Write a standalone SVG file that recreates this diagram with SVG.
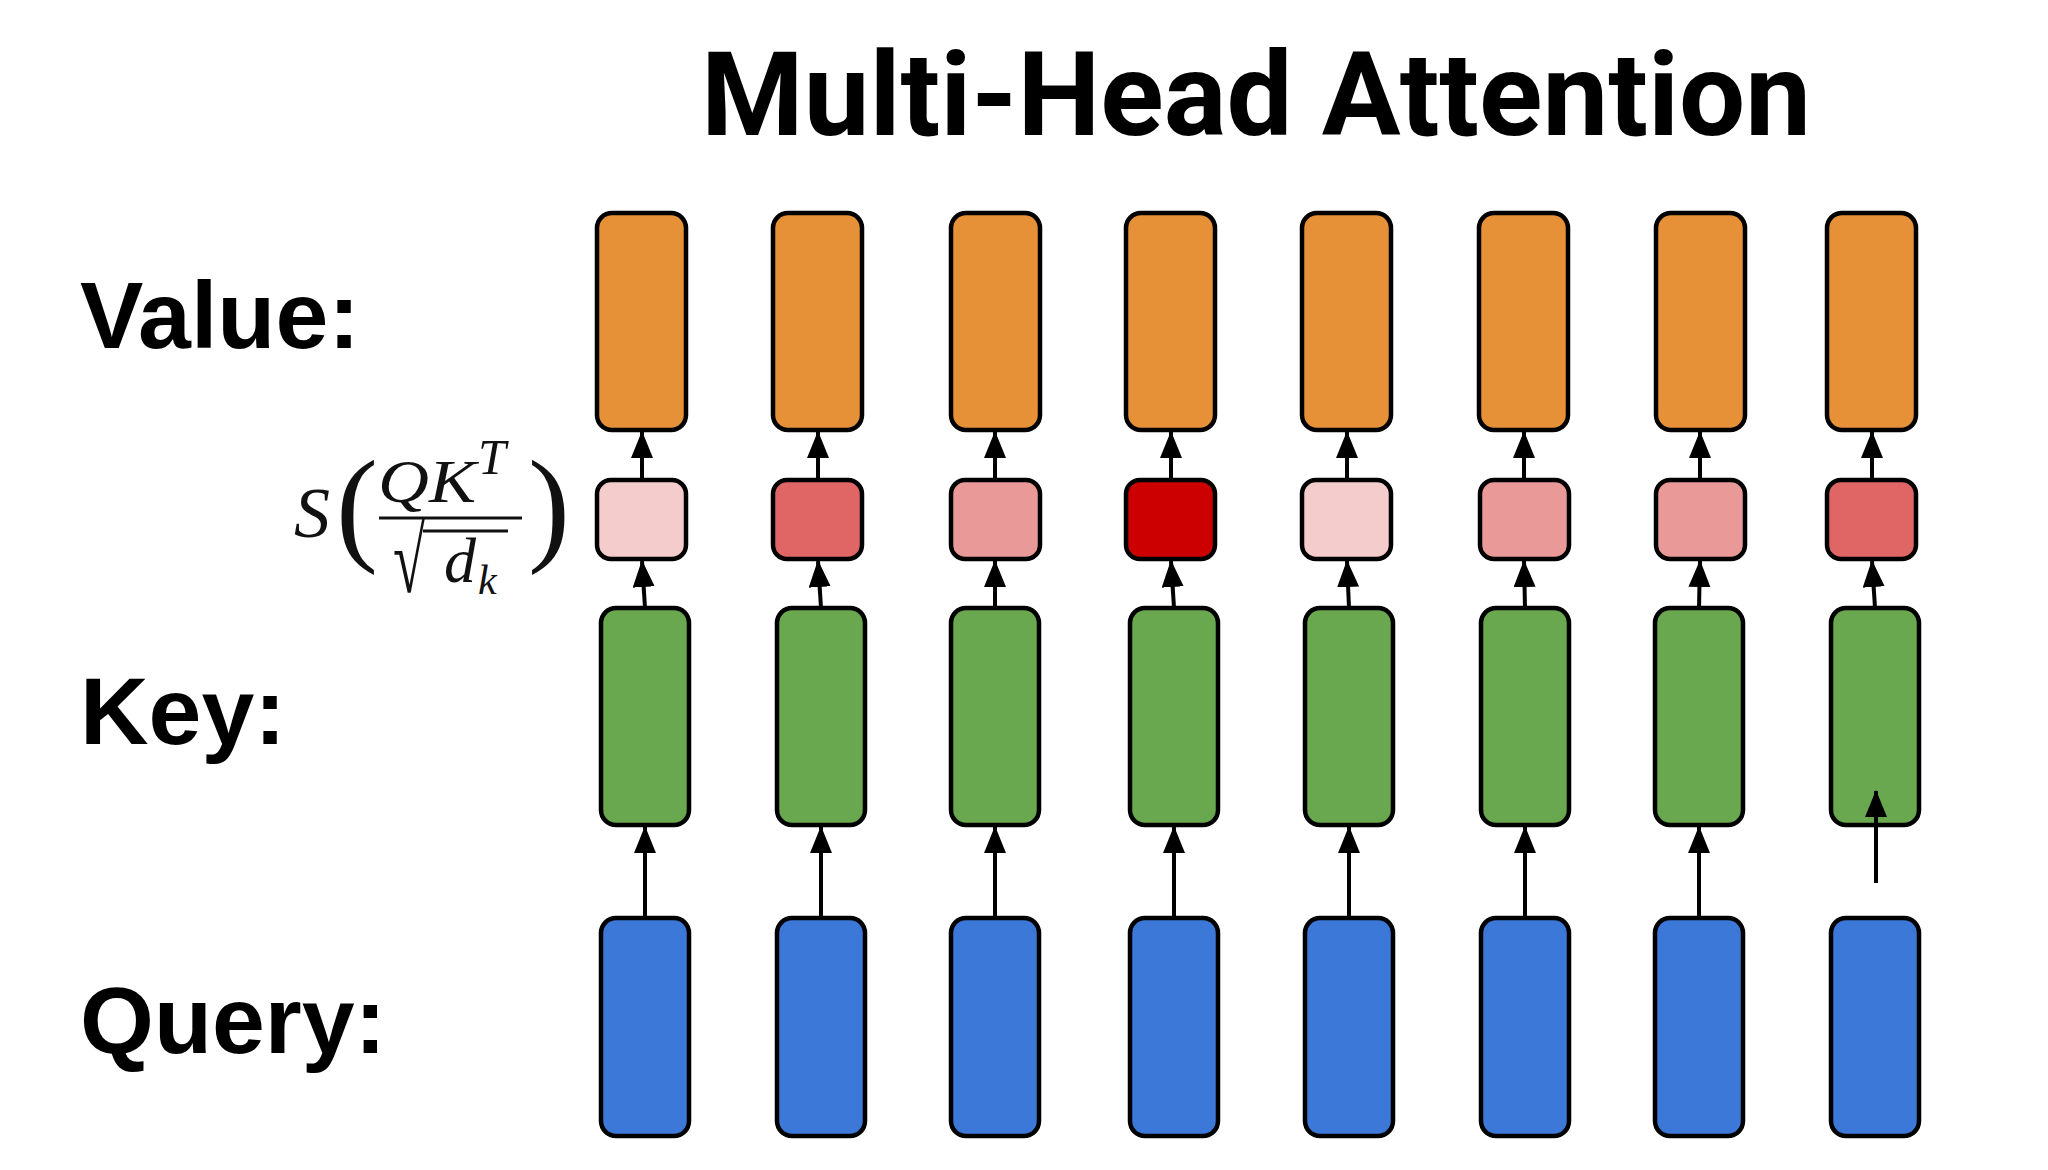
<svg xmlns="http://www.w3.org/2000/svg" width="2048" height="1170" viewBox="0 0 2048 1170">
<style>
.box{stroke:#000;stroke-width:4.5}
.v{fill:#E69138}.k{fill:#6AA84F}.q{fill:#3C78D8}
.s1{fill:#F4CCCC}.s2{fill:#EA9999}.s3{fill:#E06666}.s4{fill:#CC0000}
.lbl{font-family:"Liberation Sans",Arial,sans-serif;font-weight:bold;fill:#000}
.m{font-family:"Liberation Serif","Times New Roman",serif;font-style:italic;fill:#111}
.mr{font-family:"Liberation Serif","Times New Roman",serif;fill:#111}
.c{stroke:#000;stroke-width:4;fill:none;marker-end:url(#ah)}
</style>
<defs>
<marker id="ah" markerUnits="userSpaceOnUse" markerWidth="28" markerHeight="24" refX="26" refY="11" orient="auto">
<path d="M0,0 L27,11 L0,22 Z" fill="#000"/>
</marker>
</defs>
<rect width="2048" height="1170" fill="#fff"/>
<text x="701" y="135" font-family="Roboto,'Liberation Sans',sans-serif" font-weight="bold" font-size="117" textLength="1110" lengthAdjust="spacingAndGlyphs">Multi-Head Attention</text>
<text class="lbl" x="80" y="348" font-size="95">Value:</text>
<text class="lbl" x="80" y="744" font-size="95">Key:</text>
<text class="lbl" x="80" y="1053" font-size="95">Query:</text>
<g id="formula">
<text class="m" x="294" y="537" font-size="72">S</text>
<text class="mr" x="336" y="548" font-size="126">(</text>
<text class="m" x="378" y="502" font-size="62" textLength="98" lengthAdjust="spacingAndGlyphs">QK</text>
<text class="m" x="478" y="474" font-size="50">T</text>
<line x1="379" y1="518" x2="522" y2="518" stroke="#111" stroke-width="3"/>
<text class="mr" x="393" y="592" font-size="94" textLength="32" lengthAdjust="spacingAndGlyphs">√</text>
<line x1="423" y1="531" x2="508" y2="531" stroke="#111" stroke-width="3"/>
<text class="m" x="444" y="582" font-size="64">d</text>
<text class="m" x="478" y="594" font-size="42">k</text>
<text class="mr" x="528" y="548" font-size="126">)</text>
</g>
<g id="col1"><rect class="box v" x="597" y="213" width="89" height="217" rx="15"/><rect class="box s1" x="597" y="480" width="89" height="79" rx="14"/><rect class="box k" x="601" y="608" width="88" height="217" rx="15"/><rect class="box q" x="601" y="918" width="88" height="218" rx="15"/></g>
<g id="col2"><rect class="box v" x="773" y="213" width="89" height="217" rx="15"/><rect class="box s3" x="773" y="480" width="89" height="79" rx="14"/><rect class="box k" x="777" y="608" width="88" height="217" rx="15"/><rect class="box q" x="777" y="918" width="88" height="218" rx="15"/></g>
<g id="col3"><rect class="box v" x="951" y="213" width="89" height="217" rx="15"/><rect class="box s2" x="951" y="480" width="89" height="79" rx="14"/><rect class="box k" x="951" y="608" width="88" height="217" rx="15"/><rect class="box q" x="951" y="918" width="88" height="218" rx="15"/></g>
<g id="col4"><rect class="box v" x="1126" y="213" width="89" height="217" rx="15"/><rect class="box s4" x="1126" y="480" width="89" height="79" rx="14"/><rect class="box k" x="1130" y="608" width="88" height="217" rx="15"/><rect class="box q" x="1130" y="918" width="88" height="218" rx="15"/></g>
<g id="col5"><rect class="box v" x="1302" y="213" width="89" height="217" rx="15"/><rect class="box s1" x="1302" y="480" width="89" height="79" rx="14"/><rect class="box k" x="1305" y="608" width="88" height="217" rx="15"/><rect class="box q" x="1305" y="918" width="88" height="218" rx="15"/></g>
<g id="col6"><rect class="box v" x="1479" y="213" width="89" height="217" rx="15"/><rect class="box s2" x="1480" y="480" width="89" height="79" rx="14"/><rect class="box k" x="1481" y="608" width="88" height="217" rx="15"/><rect class="box q" x="1481" y="918" width="88" height="218" rx="15"/></g>
<g id="col7"><rect class="box v" x="1656" y="213" width="89" height="217" rx="15"/><rect class="box s2" x="1656" y="480" width="89" height="79" rx="14"/><rect class="box k" x="1655" y="608" width="88" height="217" rx="15"/><rect class="box q" x="1655" y="918" width="88" height="218" rx="15"/></g>
<g id="col8"><rect class="box v" x="1827" y="213" width="89" height="217" rx="15"/><rect class="box s3" x="1827" y="480" width="89" height="79" rx="14"/><rect class="box k" x="1831" y="608" width="88" height="217" rx="15"/><rect class="box q" x="1831" y="918" width="88" height="218" rx="15"/></g>
<g id="connectors">
<line class="c" x1="642" y1="480" x2="642" y2="432"/>
<line class="c" x1="645" y1="608" x2="642" y2="561"/>
<line class="c" x1="645" y1="918" x2="645" y2="827"/>
<line class="c" x1="818" y1="480" x2="818" y2="432"/>
<line class="c" x1="821" y1="608" x2="818" y2="561"/>
<line class="c" x1="821" y1="918" x2="821" y2="827"/>
<line class="c" x1="995" y1="480" x2="995" y2="432"/>
<line class="c" x1="995" y1="608" x2="995" y2="561"/>
<line class="c" x1="995" y1="918" x2="995" y2="827"/>
<line class="c" x1="1171" y1="480" x2="1171" y2="432"/>
<line class="c" x1="1174" y1="608" x2="1171" y2="561"/>
<line class="c" x1="1174" y1="918" x2="1174" y2="827"/>
<line class="c" x1="1347" y1="480" x2="1347" y2="432"/>
<line class="c" x1="1349" y1="608" x2="1347" y2="561"/>
<line class="c" x1="1349" y1="918" x2="1349" y2="827"/>
<line class="c" x1="1524" y1="480" x2="1524" y2="432"/>
<line class="c" x1="1525" y1="608" x2="1524" y2="561"/>
<line class="c" x1="1525" y1="918" x2="1525" y2="827"/>
<line class="c" x1="1700" y1="480" x2="1700" y2="432"/>
<line class="c" x1="1699" y1="608" x2="1700" y2="561"/>
<line class="c" x1="1699" y1="918" x2="1699" y2="827"/>
<line class="c" x1="1872" y1="480" x2="1872" y2="432"/>
<line class="c" x1="1875" y1="608" x2="1872" y2="561"/>
<line class="c" x1="1876" y1="883" x2="1876" y2="791"/>
</g>
</svg>
